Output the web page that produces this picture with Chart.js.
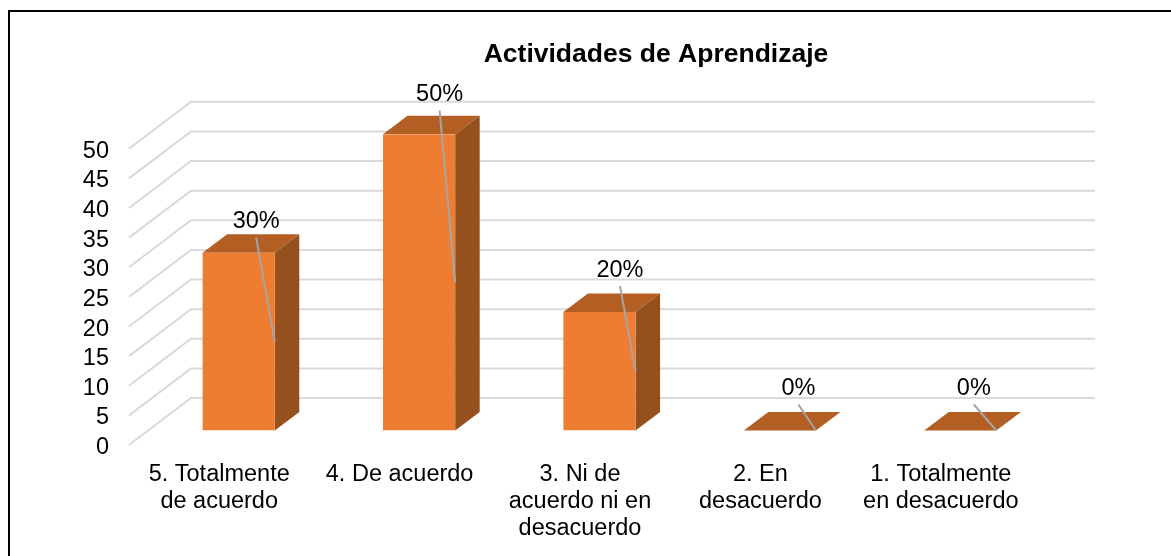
<!DOCTYPE html>
<html>
<head>
<meta charset="utf-8">
<title>Actividades de Aprendizaje</title>
<script src="https://cdn.jsdelivr.net/npm/chart.js@4/dist/chart.umd.js"></script>
<style>
    html, body { margin: 0; padding: 0; background: #fff; }
    #wrap { position: relative; width: 1171px; height: 556px; overflow: hidden; }
    #frame { position: absolute; left: 8px; top: 10px; width: 1171px; height: 560px; border: 2px solid #000; box-sizing: border-box; }
    canvas { position: absolute; left: 0; top: 0; }
</style>
</head>
<body>
<div id="wrap">
    <div id="frame"></div>
    <canvas id="actividades" width="1171" height="556"></canvas>
</div>
<script>
    var categories = [
        ["5. Totalmente", "de acuerdo"],
        "4. De acuerdo",
        ["3. Ni de", "acuerdo ni en", "desacuerdo"],
        ["2. En", "desacuerdo"],
        ["1. Totalmente", "en desacuerdo"]
    ];
    var values = [30, 50, 20, 0, 0];
    var percentLabels = ["30%", "50%", "20%", "0%", "0%"];
    var yMax = 50;
    var yStep = 5;

    // depth of the box the chart stands in
    var wallDx = 62, wallDy = 47;
    // bars stand a bit behind the front edge of the floor
    var barDx = 19.5, barDy = -14.5;
    var boxDx = 24.5, boxDy = 18.5;

    // labels were dragged by hand in the original, offset from the top of the bar
    var labelDx = [17.5, 20.5, 20.5, 18.5, 13.5];
    var labelDy = [-33, -42, -44, -44, -44];

    var FONT = "'Liberation Sans', Arial, sans-serif";

    function poly(ctx, pts, color) {
        ctx.beginPath();
        ctx.moveTo(pts[0][0], pts[0][1]);
        for (var i = 1; i < pts.length; i++) {
            ctx.lineTo(pts[i][0], pts[i][1]);
        }
        ctx.closePath();
        ctx.fillStyle = color;
        ctx.fill();
    }

    var box3d = {
        id: "box3d",
        beforeDraw: function (chart) {
            // title sits over the middle of the back wall, not the canvas
            chart.titleBlock.left = 141;
            chart.titleBlock.right = chart.width;
        },
        beforeDatasetsDraw: function (chart) {
            var ctx = chart.ctx, x = chart.scales.x, y = chart.scales.y;

            // Gridlines: along the side wall, then across the back
            ctx.save();
            ctx.strokeStyle = "#D9D9D9";
            ctx.lineWidth = 2;
            y.ticks.forEach(function (t) {
                var py = y.getPixelForValue(t.value);
                ctx.beginPath();
                ctx.moveTo(x.left, py);
                ctx.lineTo(x.left + wallDx, py - wallDy);
                ctx.lineTo(x.right + wallDx + 2, py - wallDy);
                ctx.stroke();
            });
            ctx.restore();

            // Side and top of every bar
            ctx.save();
            ctx.translate(barDx, barDy);
            chart.getDatasetMeta(0).data.forEach(function (bar) {
                var l = bar.x - bar.width / 2, r = bar.x + bar.width / 2;
                if (bar.base - bar.y > 0) {
                    poly(ctx, [[r, bar.y], [r + boxDx, bar.y - boxDy], [r + boxDx, bar.base - boxDy], [r, bar.base]], "#94501D");
                }
                poly(ctx, [[l, bar.y], [l + boxDx, bar.y - boxDy], [r + boxDx, bar.y - boxDy], [r, bar.y]], "#B35E22");
            });
            ctx.restore();

            // front faces get drawn by the library from here
            ctx.save();
            ctx.translate(barDx, barDy);
        },
        afterDatasetsDraw: function (chart) {
            var ctx = chart.ctx;
            ctx.restore();

            // Data labels and their leader lines
            ctx.save();
            ctx.translate(barDx, barDy);
            ctx.font = "23.5px " + FONT;
            ctx.textAlign = "center";
            ctx.textBaseline = "middle";
            chart.getDatasetMeta(0).data.forEach(function (bar, i) {
                var lx = bar.x + labelDx[i], ly = bar.y + labelDy[i];
                ctx.strokeStyle = "#A5A5A5";
                ctx.lineWidth = 2;
                ctx.beginPath();
                ctx.moveTo(lx, ly + 18);
                ctx.lineTo(bar.x + bar.width / 2, (bar.y + bar.base) / 2);
                ctx.stroke();
                ctx.fillStyle = "#000";
                ctx.fillText(percentLabels[i], lx, ly + 2);
            });
            ctx.restore();
        }
    };

    var ctx1 = document.getElementById("actividades").getContext("2d");
    var myChart1 = new Chart(ctx1, {
        type: "bar",
        plugins: [box3d],
        data: {
            labels: categories,
            datasets: [{
                label: "Actividades de Aprendizaje",
                data: values,
                backgroundColor: "#ED7D31",
                barPercentage: 0.4,
                categoryPercentage: 1
            }]
        },
        options: {
            responsive: false,
            animation: false,
            layout: { padding: { left: 0, right: 140, top: 0, bottom: 0 } },
            plugins: {
                legend: { display: false },
                tooltip: { enabled: false },
                title: {
                    display: true,
                    text: "Actividades de Aprendizaje",
                    color: "#000",
                    font: { family: FONT, size: 26.5, weight: "bold" },
                    padding: { top: 39, bottom: 78 }
                }
            },
            scales: {
                x: {
                    grid: { display: false },
                    border: { display: false },
                    afterFit: function (scale) { scale.height = 111; },
                    ticks: {
                        color: "#000",
                        maxRotation: 0,
                        autoSkip: false,
                        padding: 8,
                        font: { family: FONT, size: 23.5, lineHeight: 1.15 }
                    }
                },
                y: {
                    min: 0,
                    max: yMax,
                    grid: { display: false },
                    border: { display: false },
                    afterFit: function (scale) { scale.width = 129; },
                    ticks: {
                        stepSize: yStep,
                        autoSkip: false,
                        color: "#000",
                        padding: 12,
                        labelOffset: 2.5,
                        font: { family: FONT, size: 23.5 }
                    }
                }
            }
        }
    });
</script>
</body>
</html>
